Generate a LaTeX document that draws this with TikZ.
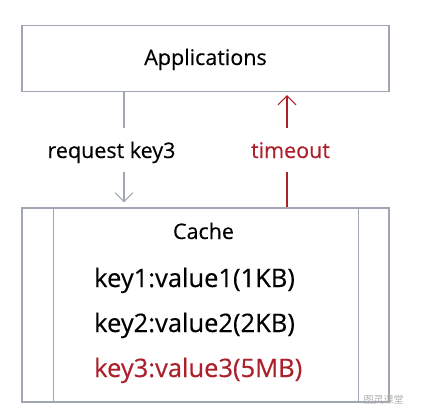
\documentclass[tikz,border=0pt]{standalone}
\usepackage{fontspec}
\setmainfont[FakeBold=0.35]{Open Sans}
\newfontfamily\cjkwm{Noto Sans CJK SC}
\usetikzlibrary{arrows.meta,calc}
\definecolor{boxgray}{RGB}{160,166,178}
\definecolor{darkred}{RGB}{172,32,44}
\definecolor{wmgray}{RGB}{175,175,175}
\tikzset{
  boxstyle/.style={draw=boxgray, line width=1.1pt, minimum width=367pt, inner sep=0pt},
  lbl/.style={font=\fontsize{21.5}{26}\selectfont, inner sep=0pt},
  keytext/.style={font=\fontsize{25.5}{30}\selectfont, inner sep=0pt, anchor=base west},
  conn/.style={line width=1.1pt},
  tipsm/.style={-{Straight Barb[length=9pt,width=18pt,line width=1.1pt]}},
}
\begin{document}
\begin{tikzpicture}[x=1pt,y=-1pt]
\useasboundingbox (0,0) rectangle (434,415);
\node[boxstyle, minimum height=66pt] (app) at (205.5,58.5) {};
\node[lbl, anchor=base] (apptext) at (205.5,65) {Applications};
\node[boxstyle, minimum height=194pt] (cache) at (205.5,305) {};
\draw[boxgray, line width=1.1pt] ($(cache.north west)+(32,0)$) -- ($(cache.south west)+(32,0)$);
\draw[boxgray, line width=1.1pt] ($(cache.north east)+(-31,0)$) -- ($(cache.south east)+(-31,0)$);
\node[lbl, anchor=base] (cachetext) at (203.5,239) {Cache};
\node[keytext] (k1) at (94,287) {key1:value1(1KB)};
\node[keytext] (k2) at (94,332) {key2:value2(2KB)};
\node[keytext, text=darkred] (k3) at (94,377) {key3:value3(5MB)};
\node[lbl, anchor=base] (req) at (111.5,158) {request key3};
\node[lbl, anchor=base, text=darkred] (to) at (290.5,158) {timeout};
\coordinate (l1) at (124,128);
\coordinate (l2) at (124,172);
\coordinate (r1) at (287,128);
\coordinate (r2) at (287,172);
\draw[conn, boxgray] (app.south -| l1) -- (l1);
\draw[conn, boxgray, tipsm, shorten >=5pt] (l2) -- (cache.north -| l2);
\draw[conn, darkred] (cache.north -| r2) -- (r2);
\draw[conn, darkred, tipsm, shorten >=3pt] (r1) -- (app.south -| r1);
\node[font=\cjkwm\fontsize{10}{12}\selectfont, text=wmgray, inner sep=0pt] (wm) at (383.5,399.5) {图灵课堂};
\end{tikzpicture}
\end{document}
